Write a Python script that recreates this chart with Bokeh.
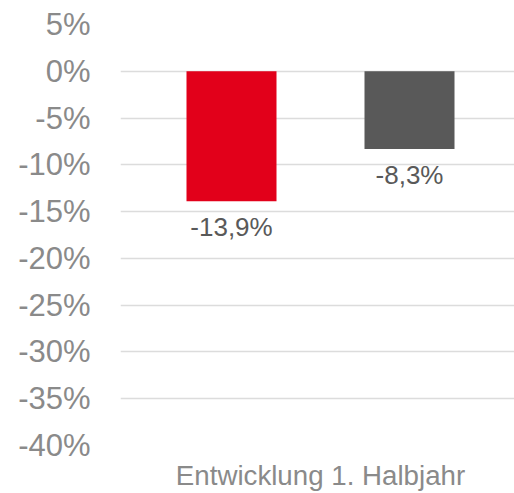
from bokeh.plotting import figure
from bokeh.models import Range1d, FixedTicker, ColumnDataSource
from bokeh.core.properties import value
from bokeh.embed import file_html
from bokeh.resources import INLINE

category = ["Entwicklung 1. Halbjahr"]
series_offsets = [-0.2225, 0.2225]
series_values = [-13.9, -8.3]
series_colors = ["#E2001A", "#595959"]
series_labels = ["-13,9%", "-8,3%"]
y_ticks = [5, 0, -5, -10, -15, -20, -25, -30, -35, -40]

FONT = "Liberation Sans"

p = figure(width=514, height=493, output_backend="svg", toolbar_location=None,
           x_range=Range1d(-0.5, 0.485), y_range=Range1d(-40, 5),
           min_border_left=120, min_border_right=0, min_border_top=24, min_border_bottom=47)
p.outline_line_color = None
p.background_fill_color = "white"
p.border_fill_color = "white"

src = ColumnDataSource(dict(x=series_offsets, top=[0, 0], bottom=series_values,
                            color=series_colors, label=series_labels))
p.vbar(x="x", width=0.225, top="top", bottom="bottom", fill_color="color",
       line_color=None, source=src)
p.text(x="x", y="bottom", text="label", source=src, text_align="center",
       text_baseline="alphabetic", y_offset=26, text_font=value(FONT),
       text_font_size="26px", text_color="#595959")

# y axis
p.yaxis.ticker = FixedTicker(ticks=y_ticks)
p.yaxis.major_label_overrides = {t: f"{t}%" for t in y_ticks}
p.yaxis.axis_line_color = None
p.yaxis.major_tick_line_color = None
p.yaxis.minor_tick_line_color = None
p.yaxis.major_label_standoff = 24
p.yaxis.major_label_text_font = FONT
p.yaxis.major_label_text_font_size = "31px"
p.yaxis.major_label_text_color = "#8A8A8A"

# x axis
p.xaxis.ticker = FixedTicker(ticks=[0])
p.xaxis.major_label_overrides = {0: category[0]}
p.xaxis.axis_line_color = None
p.xaxis.major_tick_line_color = None
p.xaxis.minor_tick_line_color = None
p.xaxis.major_label_standoff = 8
p.xaxis.major_label_text_font = FONT
p.xaxis.major_label_text_font_size = "27.7px"
p.xaxis.major_label_text_color = "#8A8A8A"

p.xgrid.grid_line_color = None
p.ygrid.ticker = FixedTicker(ticks=y_ticks)
p.ygrid.grid_line_color = "#DCDCDC"
p.ygrid.grid_line_width = 1.5

open("out.html", "w").write(file_html(p, INLINE))
